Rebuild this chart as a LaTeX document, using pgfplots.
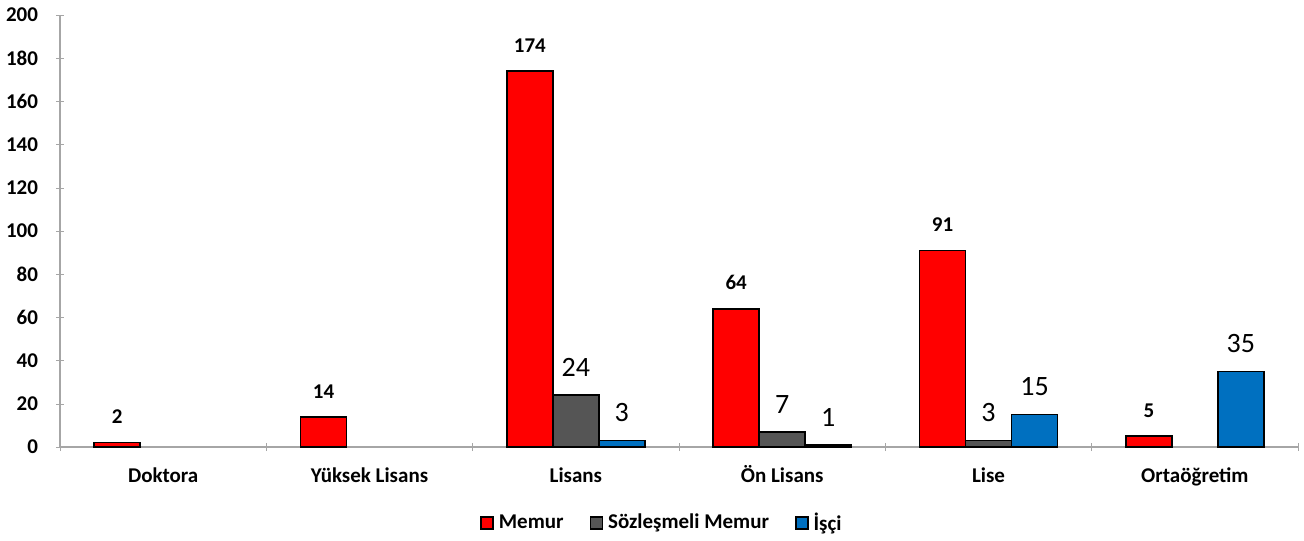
\documentclass[border=0pt]{standalone}
\usepackage{pgfplots}
\pgfplotsset{compat=1.18}
\usepackage{fontspec}
\setmainfont{Carlito}
\definecolor{cMemur}{HTML}{FF0000}
\definecolor{cSoz}{HTML}{555555}
\definecolor{cIsci}{HTML}{0070C0}
\definecolor{axgray}{HTML}{A6A6A6}
\begin{document}
\begin{tikzpicture}
\path[use as bounding box] (0,0) rectangle (652pt,270pt);
\begin{axis}[
  at={(30pt,46.5pt)}, anchor=south west,
  scale only axis, width=619pt, height=216pt,
  /pgf/number format/assume math mode=true,
  ybar=0pt, bar width=23pt,
  xmin=-0.5, xmax=5.5, ymin=0, ymax=200,
  ytick={0,20,...,200},
  xtick={0,1,2,3,4,5},
  xticklabels={Doktora,Yüksek Lisans,Lisans,Ön Lisans,Lise,Ortaöğretim},
  minor xtick={-0.5,0.5,1.5,2.5,3.5,4.5,5.5},
  major x tick style={draw=none},
  minor x tick style={draw=axgray},
  minor tick length=4pt, major tick length=4pt,
  tick align=outside,
  ytick style={draw=axgray},
  axis lines=left,
  axis line style={-, draw=axgray, line width=0.6pt},
  ticklabel style={font=\bfseries\fontsize{10.5}{12}\selectfont},
  xticklabel style={text height=1.6ex, text depth=0.3ex, yshift=-4.5pt},
  yticklabel style={xshift=-5.5pt},
  legend style={at={(0.487,-0.176)}, anchor=center, draw=none, legend columns=3,
    font=\bfseries\fontsize{10.5}{12}\selectfont, column sep=0.5pt,
    /tikz/every even column/.append style={column sep=11pt}},
  legend image code/.code={\draw[#1,line width=0.75pt] (0pt,-3pt) rectangle (6pt,3pt);},
  legend cell align=left,
]
\addplot[fill=cMemur, draw=black, line width=0.75pt,
  nodes near coords,
  nodes near coords style={font=\bfseries\fontsize{10.5}{12}\selectfont, anchor=south, inner sep=0pt, yshift=9pt, text=black}]
  coordinates {(0,2) (1,14) (2,174) (3,64) (4,91) (5,5)};
\addplot[fill=cSoz, draw=black, line width=0.75pt,
  nodes near coords,
  nodes near coords style={font=\fontsize{14}{16}\selectfont, anchor=south, inner sep=0pt, yshift=9pt, text=black}]
  coordinates {(2,24) (3,7) (4,3)};
\addplot[fill=cIsci, draw=black, line width=0.75pt,
  nodes near coords,
  nodes near coords style={font=\fontsize{14}{16}\selectfont, anchor=south, inner sep=0pt, yshift=9pt, text=black}]
  coordinates {(2,3) (3,1) (4,15) (5,35)};
\legend{Memur,Sözleşmeli Memur,İşçi}
\end{axis}
\end{tikzpicture}
\end{document}
